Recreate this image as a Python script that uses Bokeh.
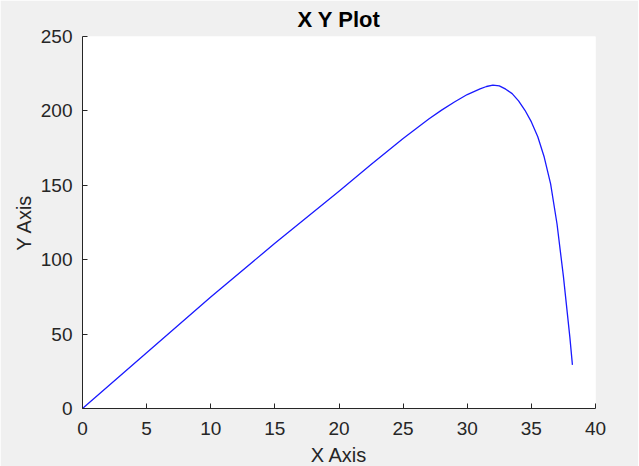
from bokeh.plotting import figure
from bokeh.models import Range1d, FixedTicker, ColumnDataSource
from bokeh.embed import file_html
from bokeh.resources import INLINE

# Data
x_vals = [0, 5, 10, 15, 20, 22.5, 25, 26, 27, 28, 29, 30, 31, 31.5, 32, 32.5,
          33, 33.5, 34, 34.5, 35, 35.5, 36, 36.5, 37, 37.5, 38, 38.2]
y_vals = [0, 37.5, 75, 111, 146, 164, 181.5, 188, 194.5, 200.5, 206, 211, 214.8,
          216.4, 217.3, 216.8, 214.6, 211.6, 206.7, 200.4, 192.6, 182.6, 169,
          151, 124, 88.6, 48, 29.3]

x_ticks = [0, 5, 10, 15, 20, 25, 30, 35, 40]
y_ticks = [0, 50, 100, 150, 200, 250]

title_text = "X Y Plot"
x_label = "X Axis"
y_label = "Y Axis"

TEXT = "#262626"
BG = "#f0f0f0"
FONT = "Liberation Sans"

p = figure(
    width=638, height=466,
    frame_width=513, frame_height=372,
    min_border_left=82, min_border_right=43,
    min_border_top=36, min_border_bottom=58,
    x_range=Range1d(0, 40), y_range=Range1d(0, 250),
    output_backend="svg", toolbar_location=None,
    title=title_text,
)

p.background_fill_color = "white"
p.border_fill_color = BG
p.outline_line_color = None
p.grid.visible = False

p.title.align = "center"
p.title.text_font = FONT
p.title.text_font_size = "22px"
p.title.text_font_style = "bold"
p.title.text_color = "black"
p.title.standoff = 9

src = ColumnDataSource(dict(x=x_vals, y=y_vals))
p.line("x", "y", source=src, line_color="#1a1aff", line_width=1.3,
       line_join="round")

for ax, ticks, lab in ((p.xaxis[0], x_ticks, x_label), (p.yaxis[0], y_ticks, y_label)):
    ax.ticker = FixedTicker(ticks=ticks)
    ax.axis_label = lab
    ax.axis_label_text_font = FONT
    ax.axis_label_text_font_size = "20px"
    ax.axis_label_text_font_style = "normal"
    ax.axis_label_text_color = TEXT
    ax.major_label_text_font = FONT
    ax.major_label_text_font_size = "19px"
    ax.major_label_text_color = TEXT
    ax.axis_line_color = TEXT
    ax.axis_line_width = 1
    ax.major_tick_line_color = TEXT
    ax.major_tick_in = 5
    ax.major_tick_out = 0
    ax.minor_tick_line_color = None

p.xaxis.major_label_standoff = 13
p.xaxis.axis_label_standoff = 6
p.yaxis.major_label_standoff = 10
p.yaxis.axis_label_standoff = 3

open("out.html", "w").write(file_html(p, INLINE))
